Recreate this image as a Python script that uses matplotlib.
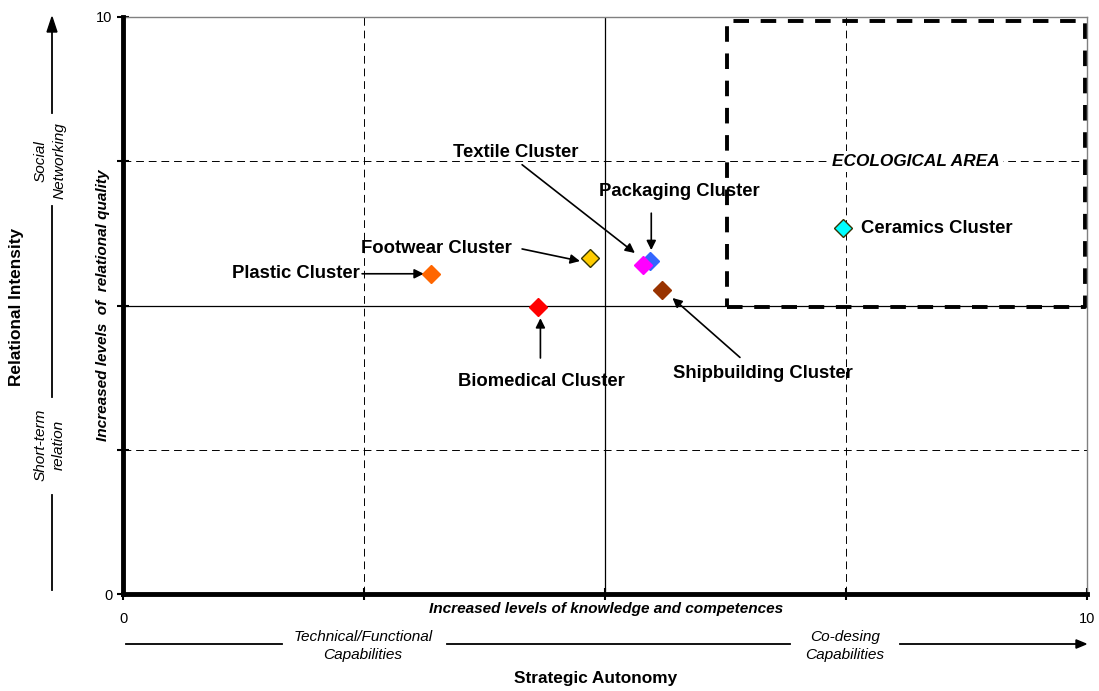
import matplotlib.pyplot as plt

plt.rcParams['font.family'] = ['Liberation Sans', 'DejaVu Sans']

# cluster positions (strategic autonomy, relational intensity)
clusters = ['Plastic Cluster', 'Footwear Cluster', 'Biomedical Cluster',
            'Packaging Cluster', 'Textile Cluster', 'Shipbuilding Cluster',
            'Ceramics Cluster']
x_vals = [3.20, 4.84, 4.30, 5.47, 5.39, 5.59, 7.47]
y_vals = [5.55, 5.82, 4.97, 5.77, 5.70, 5.27, 6.34]
face_colors = ['#FF6600', '#FFCC00', '#FF0000', '#3366FF', '#FF00FF', '#993300', '#00FFFF']
edge_colors = ['#FF6600', '#333300', '#FF0000', '#3366FF', '#FF00FF', '#993300', '#333300']

# ecological area box (x0, x1, y0, y1)
eco_box = [6.27, 9.98, 4.97, 9.93]

fig = plt.figure(figsize=(10.99, 6.91), dpi=100)
ax = fig.add_axes([123 / 1099, 1 - 594 / 691, 964 / 1099, 577 / 691])
ax.set_xlim(0, 10)
ax.set_ylim(0, 10)

# grid lines
for v in [2.5, 7.5]:
    ax.axvline(v, color='black', lw=0.7, ls=(0, (8, 5)), zorder=1)
    ax.axhline(v, color='black', lw=0.7, ls=(0, (8, 5)), zorder=1)
ax.axvline(5, color='black', lw=0.9, zorder=1)
ax.axhline(5, color='black', lw=0.9, zorder=1)

# ecological area
x0, x1, y0, y1 = eco_box
ax.plot([x0, x1, x1, x0, x0], [y0, y0, y1, y1, y0], color='black', lw=2.8,
        ls=(0, (4, 3)), zorder=2)
ax.text(8.23, 7.5, 'ECOLOGICAL AREA', ha='center', va='center',
        fontsize=12.4, fontweight='bold', fontstyle='italic',
        bbox=dict(facecolor='white', edgecolor='none', pad=2), zorder=3)

for i in range(len(clusters)):
    ax.plot(x_vals[i], y_vals[i], marker='D', ms=9, mfc=face_colors[i],
            mec=edge_colors[i], mew=1.0, ls='none', zorder=5)

# cluster labels
lab = dict(fontsize=13.3, fontweight='bold', ha='center', va='center')
ax.text(1.79, 5.55, 'Plastic Cluster', **lab)
ax.text(3.25, 5.99, 'Footwear Cluster', **lab)
ax.text(4.34, 3.69, 'Biomedical Cluster', **lab)
ax.text(5.77, 6.97, 'Packaging Cluster', **lab)
ax.text(4.07, 7.66, 'Textile Cluster', **lab)
ax.text(6.64, 3.83, 'Shipbuilding Cluster', **lab)
ax.text(x_vals[6] + 0.19, y_vals[6], 'Ceramics Cluster', fontsize=13.3,
        fontweight='bold', ha='left', va='center')

# arrows: (start, end)
arrows = [((2.48, 5.55), (3.12, 5.55)),
          ((4.14, 5.98), (4.74, 5.77)),
          ((4.33, 4.09), (4.33, 4.78)),
          ((5.48, 6.60), (5.48, 5.96)),
          ((4.14, 7.44), (5.31, 5.91)),
          ((6.40, 4.10), (5.70, 5.13))]
for start, end in arrows:
    ax.annotate('', xy=end, xytext=start,
                arrowprops=dict(arrowstyle='-|>', color='black', lw=1.2,
                                mutation_scale=14, shrinkA=0, shrinkB=0))

# axes styling
ax.set_xticks([0, 2.5, 5, 7.5, 10])
ax.set_yticks([0, 2.5, 5, 7.5, 10])
ax.set_xticklabels(['0', '', '', '', '10'])
ax.set_yticklabels(['0', '', '', '', '10'])
ax.tick_params(direction='inout', length=8, width=1.5, labelsize=10.5)
ax.tick_params(axis='x', pad=9)
for s in ['left', 'bottom']:
    ax.spines[s].set_linewidth(3.5)
    ax.spines[s].set_zorder(6)
for s in ['top', 'right']:
    ax.spines[s].set_linewidth(1.0)
    ax.spines[s].set_color('#808080')

# axis titles
fig.text(606 / 1099, 1 - 609 / 691, 'Increased levels of knowledge and competences',
         ha='center', va='center', fontsize=11.1, fontweight='bold', fontstyle='italic')
fig.text(103 / 1099, 1 - 305 / 691, 'Increased levels  of  relational quality',
         ha='center', va='center', rotation=90, fontsize=11.1,
         fontweight='bold', fontstyle='italic')
fig.text(596 / 1099, 1 - 679 / 691, 'Strategic Autonomy', ha='center', va='center',
         fontsize=12.4, fontweight='bold')
fig.text(17 / 1099, 1 - 307 / 691, 'Relational Intensity', ha='center', va='center',
         rotation=90, fontsize=12.4, fontweight='bold')

# bottom arrow broken by category text
by = 1 - 644 / 691
for xa, xb in [(126, 282), (447, 790), (900, 1078)]:
    fig.add_artist(plt.Line2D([xa / 1099, xb / 1099], [by, by], color='black', lw=1.3))
fig.patches.append(plt.Polygon([[1086 / 1099, by], [1076 / 1099, by + 0.006],
                                [1076 / 1099, by - 0.006]], closed=True,
                               color='black', transform=fig.transFigure))
fig.text(363 / 1099, 1 - 646 / 691, 'Technical/Functional\nCapabilities', ha='center',
         va='center', fontsize=11.1, fontstyle='italic', linespacing=1.4)
fig.text(845 / 1099, 1 - 646 / 691, 'Co-desing\nCapabilities', ha='center', va='center',
         fontsize=11.1, fontstyle='italic', linespacing=1.4)

# left arrow broken by category text
lx = 52 / 1099
for ya, yb in [(590, 495), (397, 206), (113, 30)]:
    fig.add_artist(plt.Line2D([lx, lx], [1 - ya / 691, 1 - yb / 691], color='black', lw=1.3))
fig.patches.append(plt.Polygon([[lx, 1 - 17 / 691], [lx - 0.0045, 1 - 32 / 691],
                                [lx + 0.0045, 1 - 32 / 691]], closed=True,
                               color='black', transform=fig.transFigure))
fig.text(lx - 2 / 1099, 1 - 161 / 691, 'Social\nNetworking', ha='center', va='center',
         rotation=90, fontsize=11.1, fontstyle='italic', linespacing=1.4)
fig.text(lx - 2 / 1099, 1 - 445 / 691, 'Short-term\nrelation', ha='center', va='center',
         rotation=90, fontsize=11.1, fontstyle='italic', linespacing=1.4)

fig.savefig('out.png', dpi=100)
